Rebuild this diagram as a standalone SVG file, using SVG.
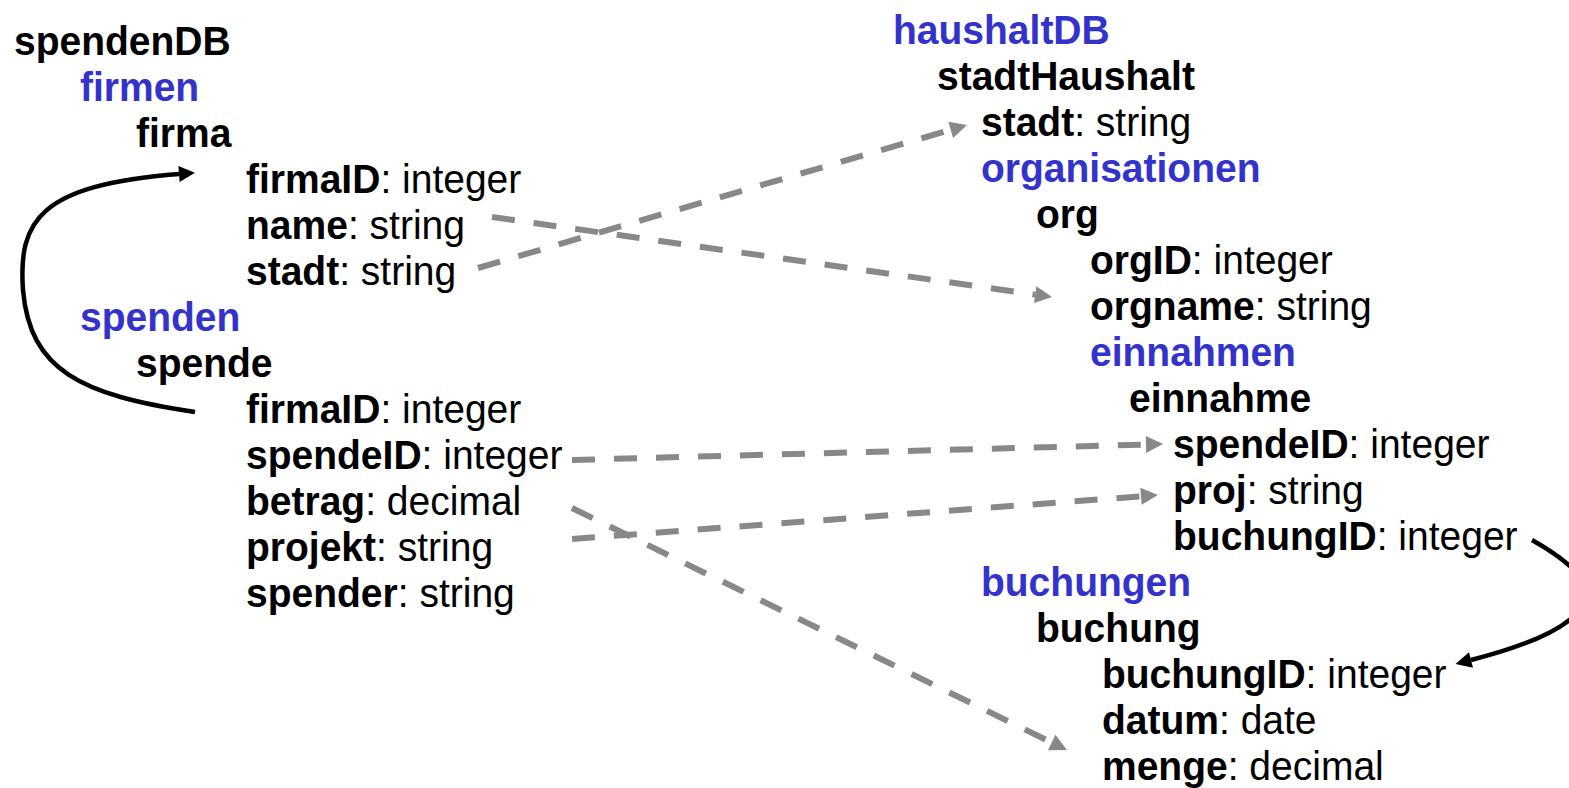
<svg xmlns="http://www.w3.org/2000/svg" width="1569" height="788" viewBox="0 0 1569 788">
<style>
text{font-family:"Liberation Sans",Arial,sans-serif;font-size:41.5px;fill:#000}
.b{font-weight:bold}
.c{font-weight:bold;fill:#3333cc}
.dash{fill:none;stroke:#888;stroke-width:6;stroke-dasharray:23 19;marker-end:url(#ga)}
.solid{fill:none;stroke:#000;stroke-width:4.5;marker-end:url(#ba)}
</style>
<defs>
<marker id="ga" markerUnits="userSpaceOnUse" markerWidth="18" markerHeight="18" refX="0" refY="8.5" orient="auto" overflow="visible"><path d="M0,0 L17,8.5 L0,17 z" fill="#888"/></marker>
<marker id="ba" markerUnits="userSpaceOnUse" markerWidth="18" markerHeight="18" refX="0" refY="8" orient="auto" overflow="visible"><path d="M0,0 L16,8 L0,16 z" fill="#000"/></marker>
</defs>
<g id="connectors">
<path class="dash" d="M478,268 L950.7,129.8"/>
<path class="dash" d="M492,217 L1035.2,294.6"/>
<path class="dash" d="M572,460 L1146,444.5"/>
<path class="dash" d="M572,539 L1141,496.3"/>
<path class="dash" d="M572,508 L1051.7,742.5"/>
<path class="solid" d="M195,412 C80,395 30,370 23,290 C18,220 40,185 179,174"/>
<path class="solid" d="M1532,540 C1585,570 1600,595 1575,615 C1555,635 1510,650 1471,660"/>
</g>
<g id="spendenDB" transform="scale(0.94 1)">
<text x="14.9" y="55" class="b">spendenDB</text>
<text x="85.1" y="101" class="c">firmen</text>
<text x="144.7" y="147" class="b">firma</text>
<text x="261.7" y="193"><tspan class="b">firmaID</tspan>: integer</text>
<text x="261.7" y="239"><tspan class="b">name</tspan>: string</text>
<text x="261.7" y="285"><tspan class="b">stadt</tspan>: string</text>
<text x="85.1" y="331" class="c">spenden</text>
<text x="144.7" y="377" class="b">spende</text>
<text x="261.7" y="423"><tspan class="b">firmaID</tspan>: integer</text>
<text x="261.7" y="469"><tspan class="b">spendeID</tspan>: integer</text>
<text x="261.7" y="515"><tspan class="b">betrag</tspan>: decimal</text>
<text x="261.7" y="561"><tspan class="b">projekt</tspan>: string</text>
<text x="261.7" y="607"><tspan class="b">spender</tspan>: string</text>
</g>
<g id="haushaltDB" transform="scale(0.94 1)">
<text x="950" y="44" class="c">haushaltDB</text>
<text x="996.8" y="90" class="b">stadtHaushalt</text>
<text x="1043.6" y="136"><tspan class="b">stadt</tspan>: string</text>
<text x="1043.6" y="182" class="c">organisationen</text>
<text x="1102.1" y="228" class="b">org</text>
<text x="1159.6" y="274"><tspan class="b">orgID</tspan>: integer</text>
<text x="1159.6" y="320"><tspan class="b">orgname</tspan>: string</text>
<text x="1159.6" y="366" class="c">einnahmen</text>
<text x="1201.1" y="412" class="b">einnahme</text>
<text x="1247.9" y="458"><tspan class="b">spendeID</tspan>: integer</text>
<text x="1247.9" y="504"><tspan class="b">proj</tspan>: string</text>
<text x="1247.9" y="550"><tspan class="b">buchungID</tspan>: integer</text>
<text x="1043.6" y="596" class="c">buchungen</text>
<text x="1102.1" y="642" class="b">buchung</text>
<text x="1172.3" y="688"><tspan class="b">buchungID</tspan>: integer</text>
<text x="1172.3" y="734"><tspan class="b">datum</tspan>: date</text>
<text x="1172.3" y="780"><tspan class="b">menge</tspan>: decimal</text>
</g>
</svg>
